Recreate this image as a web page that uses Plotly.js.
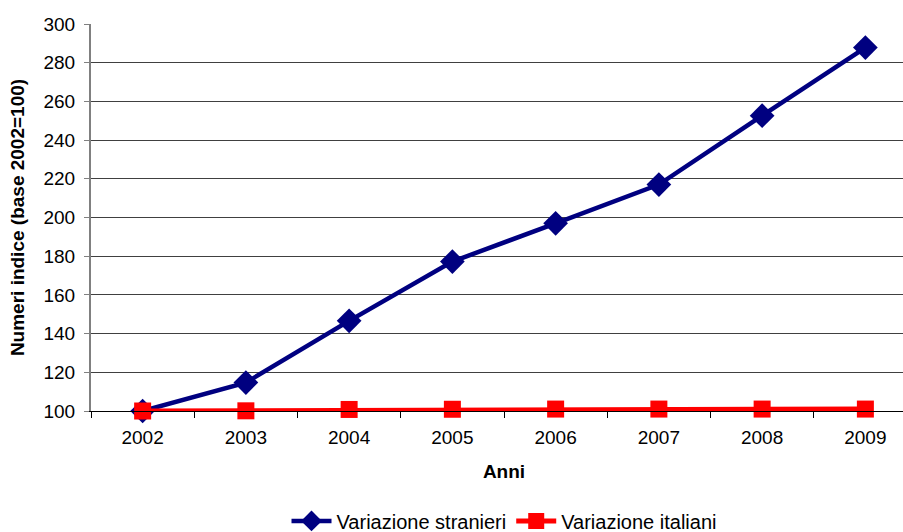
<!DOCTYPE html>
<html>
<head>
<meta charset="utf-8">
<script src="https://cdn.plot.ly/plotly-3.0.1.min.js"></script>
<style>
html,body{margin:0;padding:0;overflow:hidden;background:#fff;width:903px;height:532px;}
#chart{width:917px;height:532px;}
</style>
</head>
<body>
<div id="chart"></div>
<script>
var anni = ['2002','2003','2004','2005','2006','2007','2008','2009'];
var stranieri = [100, 114.7, 146.6, 177.2, 197, 217, 252.6, 287.8];
var italiani = [100, 100.1, 100.8, 100.9, 101, 101, 101, 101];
var nomeStranieri = 'Variazione stranieri';
var nomeItaliani = 'Variazione italiani';
var titoloX = 'Anni';
var titoloY = 'Numeri indice (base 2002=100)';

var font = 'Arial, "Liberation Sans", sans-serif';

var traces = [
  {x: anni, y: stranieri, name: nomeStranieri, type: 'scatter', mode: 'lines+markers',
   line: {color: '#000080', width: 4.5}, marker: {symbol: 'diamond', size: 19, color: '#000080'},
   cliponaxis: false},
  {x: anni, y: italiani, name: nomeItaliani, type: 'scatter', mode: 'lines+markers',
   line: {color: '#FF0000', width: 5}, marker: {symbol: 'square', size: 17, color: '#FF0000'},
   cliponaxis: false}
];

var layout = {
  width: 917, height: 532,
  margin: {l: 91, r: 0, t: 24, b: 121, autoexpand: false},
  paper_bgcolor: '#fff', plot_bgcolor: '#fff',
  font: {family: font, size: 19, color: '#000'},
  showlegend: true,
  legend: {orientation: 'h', x: 0.5, xanchor: 'center', y: -0.284, yanchor: 'middle',
           font: {size: 20}, itemwidth: 40, tracegroupgap: 0},
  xaxis: {
    type: 'category', range: [-0.5, 7.5],
    showline: true, linecolor: '#000', linewidth: 1,
    ticks: 'outside', tickson: 'boundaries', ticklen: 6, tickcolor: '#000',
    showgrid: false, zeroline: false,
    tickfont: {size: 19},
    ticklabelstandoff: 9,
    title: {text: '<b>' + titoloX + '</b>', font: {size: 19}, standoff: 17}
  },
  yaxis: {
    range: [100, 300], dtick: 20, tick0: 100,
    showline: true, linecolor: '#808080', linewidth: 2,
    ticks: 'outside', ticklen: 5, tickcolor: '#808080',
    showgrid: true, gridcolor: '#404040', gridwidth: 1,
    zeroline: false,
    tickfont: {size: 19},
    ticklabelstandoff: 5,
    title: {text: '<b>' + titoloY + '</b>', font: {size: 19}, standoff: 14}
  }
};

Plotly.newPlot('chart', traces, layout, {displayModeBar: false, staticPlot: true});
</script>
</body>
</html>
